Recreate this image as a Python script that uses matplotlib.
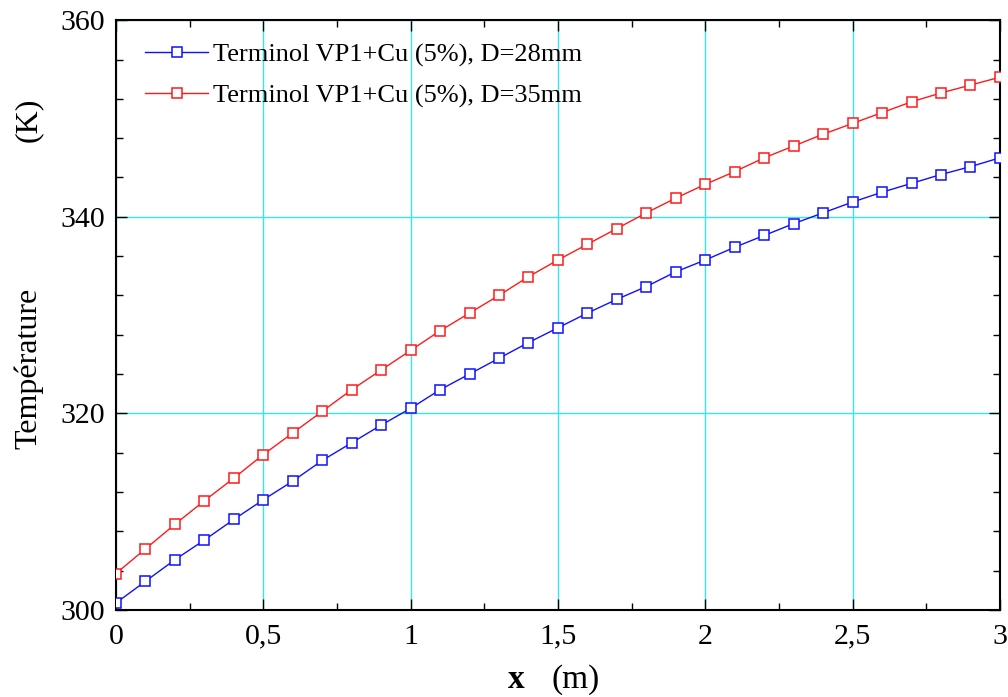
import matplotlib
matplotlib.use("Agg")
import matplotlib.pyplot as plt
import numpy as np
from matplotlib.ticker import MultipleLocator, AutoMinorLocator, FuncFormatter

x = np.round(np.arange(0, 3.01, 0.1), 2)

# D = 28 mm
t_28 = [300.7, 302.9, 305.1, 307.1, 309.2, 311.2, 313.1, 315.2, 317.0, 318.8,
        320.5, 322.4, 324.0, 325.6, 327.2, 328.7, 330.2, 331.6, 332.9, 334.4,
        335.6, 336.9, 338.1, 339.3, 340.4, 341.5, 342.5, 343.4, 344.3, 345.1,
        346.0]
# D = 35 mm
t_35 = [303.7, 306.2, 308.7, 311.1, 313.4, 315.8, 318.0, 320.2, 322.4, 324.4,
        326.4, 328.4, 330.2, 332.0, 333.9, 335.6, 337.2, 338.8, 340.4, 341.9,
        343.3, 344.6, 346.0, 347.2, 348.4, 349.5, 350.6, 351.7, 352.6, 353.4,
        354.2]

label_28 = "Terminol VP1+Cu (5%), D=28mm"
label_35 = "Terminol VP1+Cu (5%), D=35mm"

plt.rcParams['font.family'] = ['Liberation Serif', 'DejaVu Serif']

fig = plt.figure(figsize=(10.08, 6.97), dpi=100)
ax = fig.add_axes([0.115, 0.125, 0.877, 0.846])

ax.plot(x, t_28, color='#1010ff', lw=1, marker='s', ms=7.8, mfc='white',
        mec='#1010ff', mew=1.1, label=label_28, zorder=3)
ax.plot(x, t_35, color='#ff1a1a', lw=1, marker='s', ms=7.8, mfc='white',
        mec='#ff1a1a', mew=1.1, label=label_35, zorder=3)

ax.set_xlim(0, 3)
ax.set_ylim(300, 360)
ax.xaxis.set_major_locator(MultipleLocator(0.5))
ax.xaxis.set_minor_locator(AutoMinorLocator(2))
ax.yaxis.set_major_locator(MultipleLocator(20))
ax.yaxis.set_minor_locator(AutoMinorLocator(5))
ax.xaxis.set_major_formatter(FuncFormatter(lambda v, p: ('%g' % v).replace('.', ',')))

ax.grid(True, which='major', color='#33e6f0', lw=1, zorder=0)
ax.tick_params(which='both', direction='in', top=True, right=True,
               labelsize=21.5, width=1)
ax.tick_params(which='major', length=8, pad=8)
ax.tick_params(axis='x', which='major', pad=10)
ax.tick_params(which='minor', length=5)
for s in ax.spines.values():
    s.set_linewidth(1.5)

ax.text(0.453, -0.118, "x", transform=ax.transAxes, fontsize=24,
        fontweight='bold', ha='center', va='center')
ax.text(0.52, -0.118, "(m)", transform=ax.transAxes, fontsize=24,
        ha='center', va='center')
fig.text(0.028, 0.472, "Température", rotation=90, fontsize=23,
         ha='center', va='center')
fig.text(0.028, 0.828, "(K)", rotation=90, fontsize=23,
         ha='center', va='center')

leg = ax.legend(loc='upper left', bbox_to_anchor=(0.033, 0.962), frameon=False,
                fontsize=19, handlelength=2.4, handletextpad=0.18,
                labelspacing=0.65, borderaxespad=0, borderpad=0, markerscale=0.85)

fig.savefig("out.png", dpi=100)
